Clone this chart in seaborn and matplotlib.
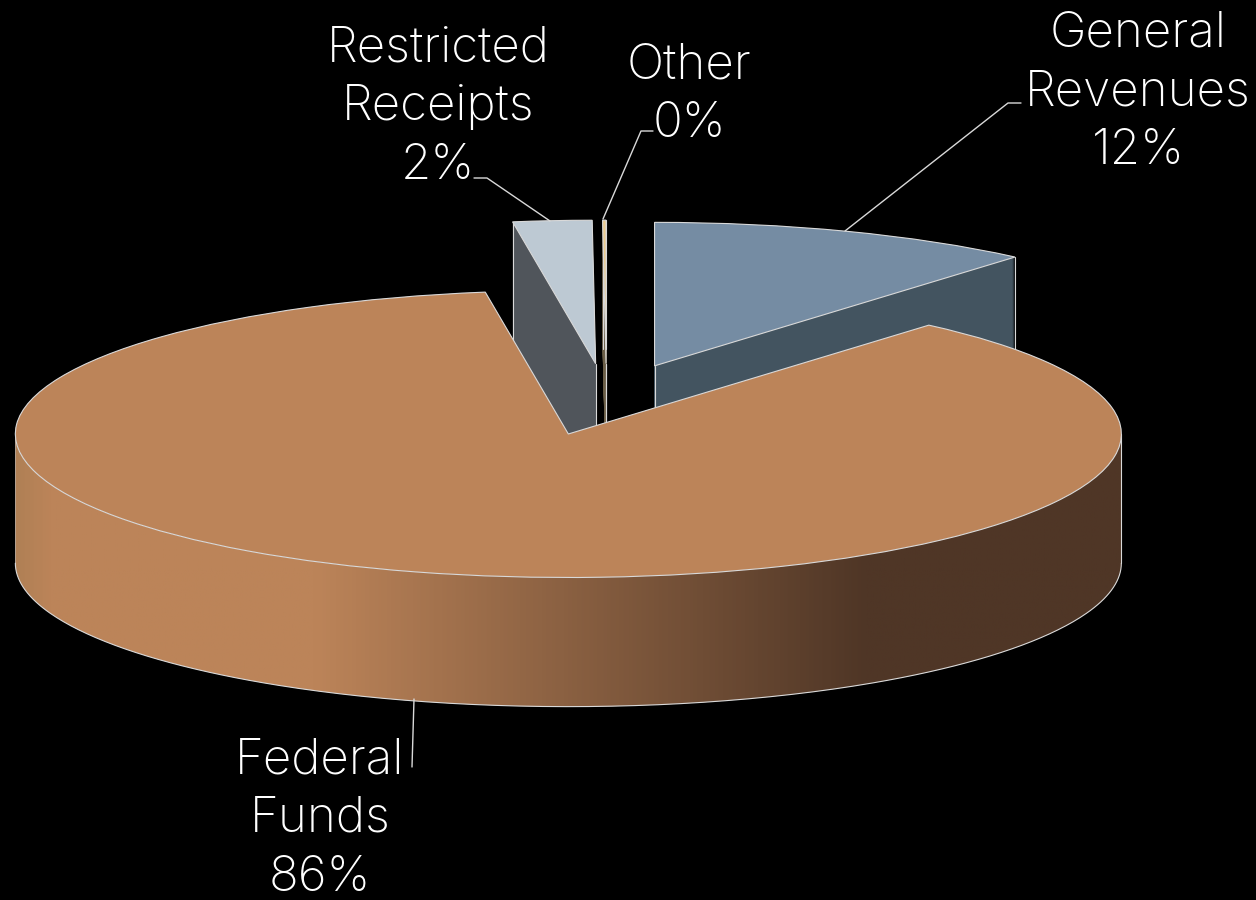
import numpy as np
import seaborn as sns
import matplotlib.pyplot as plt
from matplotlib.colors import LinearSegmentedColormap
from matplotlib.patches import PathPatch
from matplotlib.path import Path

names = ['General\nRevenues', 'Federal\nFunds', 'Restricted\nReceipts', 'Other']
pct_labels = ['12%', '86%', '2%', '0%']
shares = [11.3, 86.3, 2.3, 0.1]
top_colors = ['#758CA3', '#BC8459', '#BDC9D3', '#EBCB8F']
side_colors = ['#435460', '#4F3626', '#50555B', '#6B5F48']
edge = '#D9D9D9'

explode = [0.25] * 4
depth = 0.9

sns.set_theme(style='dark', rc={'figure.facecolor': 'black', 'axes.facecolor': 'black'})
plt.rcParams['font.family'] = ['Inter', 'DejaVu Sans']

fig = plt.figure(figsize=(12.56, 9), dpi=100)
ax = fig.add_axes([0, 0, 1, 1])


def pie_layer(colors, drop, zorder, props):
    wedges, _ = ax.pie(shares, colors=colors, explode=explode, startangle=90, counterclock=False,
                       center=(0, -drop), wedgeprops=dict(zorder=zorder, **props))
    return wedges


# side walls, one thin pie per pixel of depth
for drop in np.linspace(depth, 0, 130):
    pie_layer(side_colors, drop, 1, dict(edgecolor='none', linewidth=0))

top = pie_layer(top_colors, 0, 5, dict(edgecolor=edge, linewidth=0.8))

# corner lines on the back slices
for w, ang in [(top[0], top[0].theta1), (top[2], top[2].theta2), (top[3], top[3].theta1), (top[3], top[3].theta2)]:
    cx, cy = w.center
    for px_, py_ in [(cx, cy), (cx + np.cos(np.radians(ang)), cy + np.sin(np.radians(ang)))]:
        ax.plot([px_, px_], [py_, py_ - depth], color=edge, lw=0.8, zorder=1.5)

# front wall of the big slice with its shading
fx, fy = top[1].center
t = np.radians(np.linspace(180, 360, 300))
arc_x = fx + np.cos(t)
arc_y = fy + np.sin(t)
band = Path(np.r_[np.c_[arc_x, arc_y], np.c_[arc_x, arc_y - depth][::-1], [[arc_x[0], arc_y[0]]]])
shade = LinearSegmentedColormap.from_list('shade', [(0, '#B08055'), (0.03, '#BC8459'), (0.27, '#BC8459'),
                                                    (0.77, '#4F3626'), (1, '#4F3626')])
im = ax.imshow(np.linspace(0, 1, 600)[None, :], cmap=shade, aspect='auto', zorder=2,
               extent=(fx - 1, fx + 1, fy - 1 - depth, fy))
im.set_clip_path(PathPatch(band, transform=ax.transData))
ax.plot(arc_x, arc_y - depth, color=edge, lw=0.8, zorder=3)
ax.plot([arc_x[0], arc_x[0]], [arc_y[0], arc_y[0] - depth], color=edge, lw=0.6, alpha=0.6, zorder=3)
ax.plot([arc_x[-1], arc_x[-1]], [arc_y[-1], arc_y[-1] - depth], color=edge, lw=0.8, zorder=3)

ax.set_aspect('auto')
ax.set_xlim(-606.5 / 553, (1256 - 606.5) / 553)
ax.set_ylim((399.5 - 900) / 143.5, 399.5 / 143.5)
ax.axis('off')

# labels, placed in figure pixels
def px(x, y):
    return x / 1256, 1 - y / 900


label_pos = [(1138, 92), (320, 819), (438, 107), (689, 95)]
for name, pct, (x, y) in zip(names, pct_labels, label_pos):
    xf, yf = px(x, y)
    fig.text(xf, yf, f'{name}\n{pct}', color='white', fontsize=35.5, fontweight='light',
             ha='center', va='center', linespacing=1.36, zorder=10)

leaders = [[(845, 231), (1008, 103), (1021, 103)],
           [(414, 699), (412, 767)],
           [(550, 221), (487, 178), (474, 178)],
           [(603, 219), (641, 131), (653, 131)]]
for line in leaders:
    xs, ys = zip(*[px(*p) for p in line])
    fig.add_artist(plt.Line2D(xs, ys, color=edge, lw=1, zorder=9))

fig.savefig('out.png', dpi=100, facecolor='black')
